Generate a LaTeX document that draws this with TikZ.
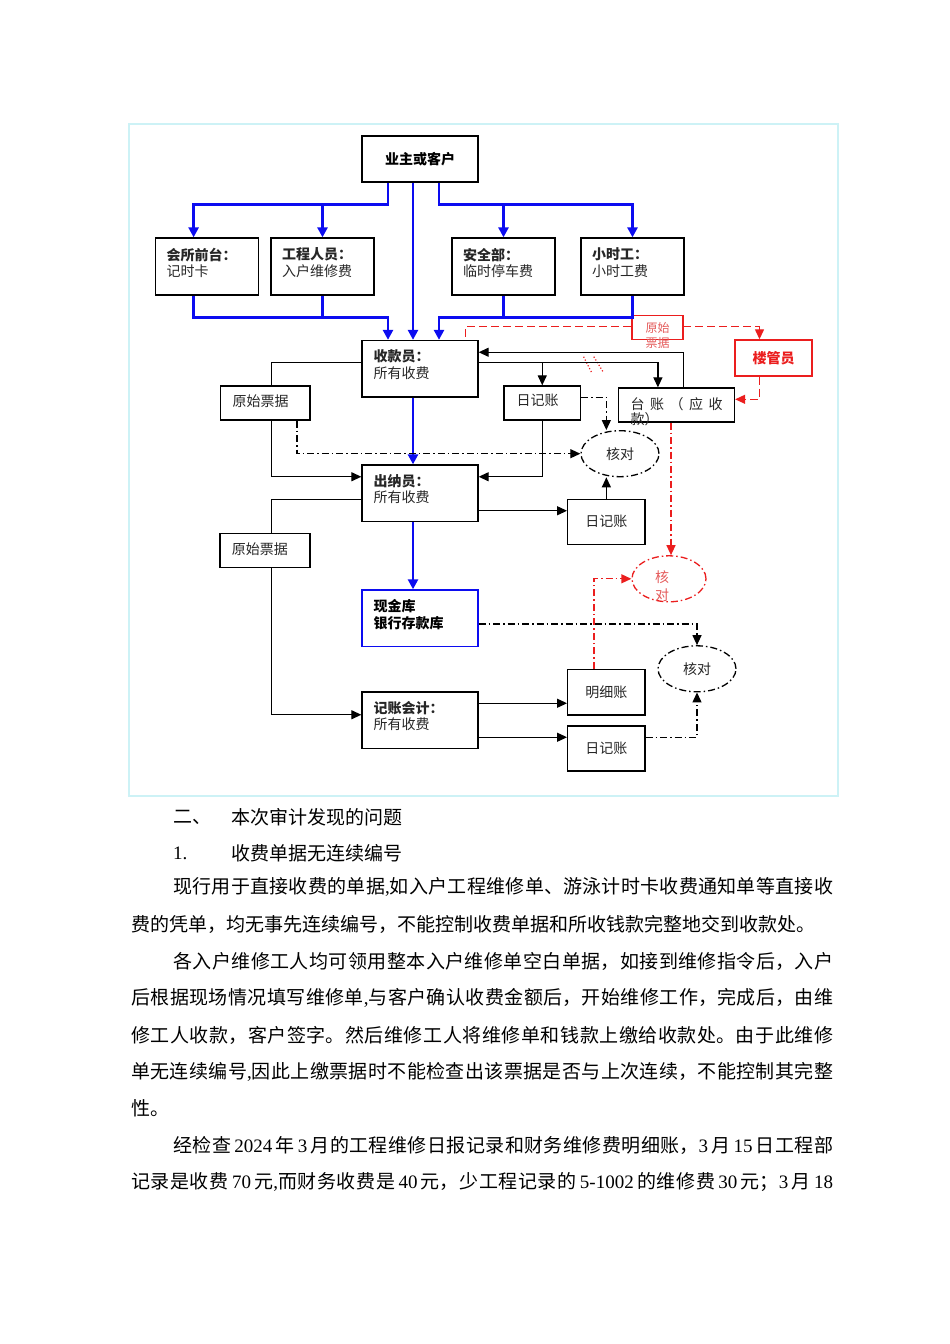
\documentclass[tikz,border=0pt]{standalone}
\usepackage{fontspec}
\setmainfont{Noto Sans CJK SC}
\newfontfamily\lat{Liberation Serif}
\usetikzlibrary{arrows.meta,shapes.geometric}
\XeTeXlinebreaklocale "zh"
\XeTeXlinebreakskip=0pt plus 3pt minus 0.6pt
\definecolor{fblue}{RGB}{12,12,240}
\definecolor{fred}{RGB}{235,30,30}
\definecolor{lred}{RGB}{228,90,90}
\definecolor{framec}{RGB}{205,242,246}
\newcommand{\dsz}{\fontsize{14}{16.5}\selectfont}
\newcommand{\bsz}{\fontsize{19}{22}\selectfont}
\newcommand{\hgap}{\hspace{0.15em plus 0.15em}}
\begin{document}
\begin{tikzpicture}[x=1pt,y=-1pt,
  box/.style={draw=black,line width=1.3pt,rectangle,inner sep=0pt},
  bbox/.style={draw=fblue,line width=1.4pt,rectangle,inner sep=0pt},
  rbox/.style={draw=fred,line width=1.4pt,rectangle,inner sep=0pt,fill=white},
  dt/.style={font=\dsz,inner sep=0pt,align=left,text=black!85},
  bt/.style={font=\bsz,inner sep=0pt,anchor=west,text=black},
  ell/.style={ellipse,draw=black,line width=1.3pt,inner sep=0pt,dash pattern=on 7pt off 3pt on 1.5pt off 3pt,font=\dsz,text=black!85},
  bl/.style={draw=fblue,line width=2.6pt},
  bla/.style={-{Triangle[length=10pt,width=10pt]}},
  bk/.style={draw=black,line width=1.2pt},
  bka/.style={-{Triangle[length=10pt,width=9pt]}},
  dd/.style={draw=black,line width=1.2pt,dash pattern=on 7pt off 3pt on 1.5pt off 3pt},
  rd/.style={draw=fred,line width=1.3pt,dash pattern=on 8pt off 4pt},
  rdd/.style={draw=fred,line width=1.3pt,dash pattern=on 7pt off 3pt on 1.5pt off 3pt},
  rda/.style={-{Triangle[length=10pt,width=9pt]}}]
\useasboundingbox (0,0) rectangle (950,1344);
\draw[framec,line width=1.2pt] (129,124) rectangle (838,796);

% boxes
\node[box,minimum width=116pt,minimum height=46pt,font=\dsz\bfseries] (yz) at (420,159) {业主或客户};
\node[box,minimum width=103pt,minimum height=57pt] (hs) at (207,266.5) {};
\node[box,minimum width=103pt,minimum height=57pt] (gc) at (322.5,266.5) {};
\node[box,minimum width=103pt,minimum height=57pt] (aq) at (503.5,266.5) {};
\node[box,minimum width=103pt,minimum height=57pt] (xs) at (632.5,266.5) {};
\node[dt,anchor=west] (hsT) at ([xshift=11.5pt,yshift=3.7pt]hs.west) {\textbf{会所前台：}\\记时卡};
\node[dt,anchor=west] (gcT) at ([xshift=11.5pt,yshift=3.7pt]gc.west) {\textbf{工程人员：}\\入户维修费};
\node[dt,anchor=west] (aqT) at ([xshift=11.5pt,yshift=3.7pt]aq.west) {\textbf{安全部：}\\临时停车费};
\node[dt,anchor=west] (xsT) at ([xshift=11.5pt,yshift=3.7pt]xs.west) {\textbf{小时工：}\\小时工费};

\node[box,minimum width=116pt,minimum height=56.5pt] (sk) at (420,368.75) {};
\node[dt,anchor=west] (skT) at ([xshift=12pt,yshift=4.4pt]sk.west) {\textbf{收款员：}\\所有收费};
\node[box,minimum width=89.5pt,minimum height=34pt] (yp1) at (265.25,403) {};
\node[dt,anchor=west] (yp1T) at ([xshift=12.5pt,yshift=2.3pt]yp1.west) {原始票据};
\node[box,minimum width=76.5pt,minimum height=34pt] (rj1) at (542.25,403) {};
\node[dt,anchor=west] (rj1T) at ([xshift=13pt,yshift=2.3pt]rj1.west) {日记账};
\node[box,minimum width=116pt,minimum height=34pt] (tz) at (676.5,405) {};
\node[dt,anchor=west,font=\fontsize{14}{15}\selectfont] (tzT) at ([xshift=12.5pt,yshift=-6.5pt]tz.west) {\hbox to 92pt{台\hfil 账\hfil （\hfil 应\hfil 收}\\款）};
\node[rbox,minimum width=77pt,minimum height=36pt,font=\dsz\bfseries,text=fred] (lg) at (773.5,358) {楼管员};
\node[ell,minimum width=78pt,minimum height=46pt] (hd1) at (620,453.7) {核对};

\node[box,minimum width=116pt,minimum height=56.5pt] (cn) at (420,493.25) {};
\node[dt,anchor=west] (cnT) at ([xshift=12pt,yshift=4.4pt]cn.west) {\textbf{出纳员：}\\所有收费};
\node[box,minimum width=77.3pt,minimum height=45pt,font=\dsz,text=black!85] (rj2) at (606.35,521.8) {日记账};
\node[box,minimum width=90pt,minimum height=34pt] (yp2) at (265,550.3) {};
\node[dt,anchor=west] (yp2T) at ([xshift=12.4pt,yshift=1pt]yp2.west) {原始票据};
\node[ell,draw=fred,minimum width=74pt,minimum height=46pt] (hd2) at (669,578.8) {};
\node[inner sep=0pt,font=\fontsize{14}{18}\selectfont,text=lred,align=center] (hd2T) at ([xshift=-7pt,yshift=-7.2pt]hd2.center) {核\\对};

\node[bbox,minimum width=116pt,minimum height=56.5pt] (xj) at (420,618.25) {};
\node[dt,anchor=west,font=\fontsize{14}{17.5}\selectfont\bfseries,text=black] (xjT) at ([xshift=12pt,yshift=3.8pt]xj.west) {现金库\\银行存款库};
\node[ell,minimum width=78pt,minimum height=46pt] (hd3) at (697,668.8) {核对};
\node[box,minimum width=77.3pt,minimum height=45.7pt,font=\dsz,text=black!85] (mx) at (606.35,692.15) {明细账};
\node[box,minimum width=116pt,minimum height=56.5pt] (jz) at (420,720.25) {};
\node[dt,anchor=west] (jzT) at ([xshift=12pt,yshift=4.4pt]jz.west) {\textbf{记账会计：}\\所有收费};
\node[box,minimum width=77.3pt,minimum height=45pt,font=\dsz,text=black!85] (rj3) at (606.35,748.5) {日记账};

% red dashed connectors
\coordinate (rs) at ([xshift=-13.5pt,yshift=3.2pt]sk.north east);
\coordinate (lgN) at ([xshift=-14pt]lg.north);
\coordinate (lgS) at ([xshift=-14pt]lg.south);
\coordinate (tzE) at ([yshift=5.7pt]tz.east);
\coordinate (tzS) at ([xshift=-5.5pt]tz.south);
\coordinate (mxN) at ([xshift=-12.35pt]mx.north);
\draw[rd,rda] (rs) -- ++(0,-10) -| (lgN);
\draw[rd,rda] (lgS) |- (tzE);
\draw[rdd,rda] (tzS) -- (tzS |- hd2.north);
\draw[rdd,rda] (mxN) |- (hd2.west);
\node[rbox,minimum width=51pt,minimum height=24pt] (yr) at (657.5,327.5) {};
\node[inner sep=0pt,font=\fontsize{12}{15}\selectfont,text=lred,align=center] (yrT) at ([yshift=-7.5pt]yr.center) {原始\\票据};
\draw[fred,dotted,line width=1.2pt] (583.6,356.7) -- (592,373.3);
\draw[fred,dotted,line width=1.2pt] (593.8,356.7) -- (603,371.7);

% blue connectors
\coordinate (busT) at (0,204.3);
\coordinate (busB) at (0,317.7);
\coordinate (yzA) at ([xshift=-32pt]yz.south);
\coordinate (yzB) at ([xshift=-7pt]yz.south);
\coordinate (yzC) at ([xshift=19pt]yz.south);
\coordinate (hsN) at ([xshift=-13.4pt]hs.north);
\coordinate (hsS) at ([xshift=-13.4pt]hs.south);
\coordinate (skA) at ([xshift=-32pt]sk.north);
\coordinate (skB) at ([xshift=-7pt]sk.north);
\coordinate (skC) at ([xshift=19pt]sk.north);
\draw[bl,bla] (yzA) -- (yzA |- busT) -| (hsN);
\draw[bl,bla] (gc.north |- busT) -- (gc.north);
\draw[bl,bla] (yzB) -- (skB);
\draw[bl,bla] (yzC) -- (yzC |- busT) -| (xs.north);
\draw[bl,bla] (aq.north |- busT) -- (aq.north);
\draw[bl,bla] (hsS) -- (hsS |- busB) -| (skA);
\draw[bl] (gc.south) -- (gc.south |- busB);
\draw[bl,bla] (xs.south) -- (xs.south |- busB) -| (skC);
\draw[bl] (aq.south) -- (aq.south |- busB);
\draw[bl,bla] ([xshift=-7pt]sk.south) -- ([xshift=-7pt]cn.north);
\draw[bl,bla] ([xshift=-7pt]cn.south) -- ([xshift=-7pt]xj.north);

% black connectors
\coordinate (skL) at ([yshift=6pt]sk.west);
\coordinate (skR) at ([yshift=6pt]sk.east);
\coordinate (skR2) at ([yshift=16.5pt]sk.east);
\coordinate (yp1N) at ([xshift=6.5pt]yp1.north);
\coordinate (yp1S) at ([xshift=6.5pt]yp1.south);
\coordinate (cnL1) at ([yshift=16.5pt]cn.west);
\coordinate (cnR1) at ([yshift=16.5pt]cn.east);
\coordinate (cnL2) at ([yshift=-6pt]cn.west);
\coordinate (cnR2) at ([yshift=-17.5pt]cn.east);
\coordinate (tzN1) at ([xshift=-18.6pt]tz.north);
\coordinate (tzN2) at ([xshift=7.3pt]tz.north);
\coordinate (yp2N) at ([xshift=6.7pt]yp2.north);
\coordinate (yp2S) at ([xshift=6.7pt]yp2.south);
\coordinate (jzL) at ([yshift=5.5pt]jz.west);
\coordinate (jzR1) at ([yshift=17pt]jz.east);
\coordinate (jzR2) at ([yshift=-17pt]jz.east);
\draw[bk] (skL) -| (yp1N);
\draw[bk,bka] (yp1S) |- (cnL1);
\draw[bk,bka] (skR) -| (tzN1);
\draw[bk,bka] (rj1.north |- skR) -- (rj1.north);
\draw[bk,bka] (tzN2) |- (skR2);
\draw[bk,bka] (rj1.south) |- (cnR1);
\draw[bk] (cnL2) -| (yp2N);
\draw[bk,bka] (yp2S) |- (jzL);
\draw[bk,bka] (cnR2) -- (cnR2 -| rj2.west);
\draw[bk,bka] (rj2.north) -- (rj2.north |- hd1.south);
\draw[bk,bka] (jzR1) -- (jzR1 -| mx.west);
\draw[bk,bka] (jzR2) -- (jzR2 -| rj3.west);

% dash-dot connectors
\coordinate (yp1D) at ([xshift=31.75pt]yp1.south);
\coordinate (rj1E) at ([yshift=5.7pt]rj1.east);
\coordinate (xjE) at ([yshift=-5.75pt]xj.east);
\coordinate (rj3E) at ([yshift=11.2pt]rj3.east);
\draw[dd,bka] (yp1D) |- (hd1.west);
\draw[dd,bka] (rj1E) -| (rj2.north |- hd1.north);
\draw[dd,bka] (xjE) -| (hd3.north);
\draw[dd,bka] (rj3E) -| (hd3.south);

% body text
\node[bt] (l1a) at (173,817) {二、};
\node[bt] (l1b) at (231,817) {本次审计发现的问题};
\node[bt] (l2a) at (173,853) {\lat 1.};
\node[bt] (l2b) at (231,853) {收费单据无连续编号};
\node[bt] (l3) at (173,887) {\parbox{660pt}{\parfillskip=0pt 现行用于直接收费的单据{\lat ,}如入户工程维修单、游泳计时卡收费通知单等直接收}};
\node[bt] (l4) at (131,924) {费的凭单，均无事先连续编号，不能控制收费单据和所收钱款完整地交到收款处。};
\node[bt] (l5) at (173,961) {\parbox{660pt}{\parfillskip=0pt 各入户维修工人均可领用整本入户维修单空白单据，如接到维修指令后，入户}};
\node[bt] (l6) at (131,998) {\parbox{702pt}{\parfillskip=0pt 后根据现场情况填写维修单{\lat ,}与客户确认收费金额后，开始维修工作，完成后，由维}};
\node[bt] (l7) at (131,1035) {\parbox{702pt}{\parfillskip=0pt 修工人收款，客户签字。然后维修工人将维修单和钱款上缴给收款处。由于此维修}};
\node[bt] (l8) at (131,1072) {\parbox{702pt}{\parfillskip=0pt 单无连续编号{\lat ,}因此上缴票据时不能检查出该票据是否与上次连续，不能控制其完整}};
\node[bt] (l9) at (131,1108) {性。};
\node[bt] (l10) at (173,1145) {\parbox{660pt}{\parfillskip=0pt 经检查\hgap{\lat 2024}\hgap 年\hgap{\lat 3}\hgap 月的工程维修日报记录和财务维修费明细账，{\lat 3}\hgap 月\hgap{\lat 15}\hgap 日工程部}};
\node[bt] (l11) at (131,1182) {\parbox{702pt}{\parfillskip=0pt 记录是收费\hgap{\lat 70}\hgap 元{\lat ,}而财务收费是\hgap{\lat 40}\hgap 元，少工程记录的\hgap{\lat 5-1002}\hgap 的维修费\hgap{\lat 30}\hgap 元；{\lat 3}\hgap 月\hgap{\lat 18}}};
\end{tikzpicture}
\end{document}
